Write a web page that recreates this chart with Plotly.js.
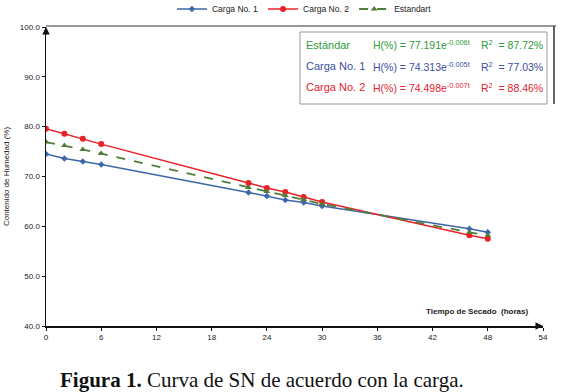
<!DOCTYPE html>
<html>
<head>
<meta charset="utf-8">
<script src="https://cdn.plot.ly/plotly-3.0.1.min.js"></script>
<style>
html,body{margin:0;padding:0;background:#fff;}
#chart{width:566px;height:392px;}
</style>
</head>
<body>
<div id="chart"></div>
<script>
const hours = [0, 2, 4, 6, 22, 24, 26, 28, 30, 46, 48];
const carga1 = [74.5, 73.6, 73.0, 72.4, 66.8, 66.1, 65.3, 64.8, 64.1, 59.5, 58.8];
const carga2 = [79.6, 78.6, 77.6, 76.5, 68.7, 67.7, 66.9, 65.9, 64.9, 58.2, 57.5];
const estandar = [76.9, 76.2, 75.4, 74.6, 67.8, 67.0, 66.2, 65.4, 64.5, 58.8, 58.2];
const xTicks = [0, 6, 12, 18, 24, 30, 36, 42, 48, 54];
const yTicks = [40, 50, 60, 70, 80, 90, 100];
const eqNames = ['Estándar', 'Carga No. 1', 'Carga No. 2'];
const eqText = ['H(%) = 77.191e<sup>-0.006t</sup>', 'H(%) = 74.313e<sup>-0.005t</sup>', 'H(%) = 74.498e<sup>-0.007t</sup>'];
const r2Text = ['R<sup>2</sup>  = 87.72%', 'R<sup>2</sup>  = 77.03%', 'R<sup>2</sup>  = 88.46%'];
const eqColors = ['#2e9a3c', '#3b4f9e', '#e2232f'];

const traces = [
  {x: hours, y: carga1, name: 'Carga No. 1', mode: 'lines+markers',
   line: {color: '#3d67a8', width: 1.5}, marker: {symbol: 'diamond', size: 5, color: '#3d67a8'}},
  {x: hours, y: carga2, name: 'Carga No. 2', mode: 'lines+markers',
   line: {color: '#ec2127', width: 1.5}, marker: {symbol: 'circle', size: 6, color: '#ec2127'}},
  {x: hours, y: estandar, name: 'Estandart', mode: 'lines+markers',
   line: {color: '#4f7d3a', width: 1.8, dash: 'dash'}, marker: {symbol: 'triangle-up', size: 6, color: '#4f7d3a'}}
];

const P = {l: 46, t: 27, w: 497, h: 299};
const px = v => (v - P.l) / P.w;
const py = v => 1 - (v - P.t) / P.h;

const ann = [];
const eqFont = 'Liberation Sans, Arial, sans-serif';
for (let i = 0; i < 3; i++) {
  const yy = 45 + i * 21;
  ann.push({xref: 'paper', yref: 'paper', x: px(304), y: py(yy), xanchor: 'left', yanchor: 'middle',
            text: eqNames[i], showarrow: false, font: {family: eqFont, size: 11, color: eqColors[i]}});
  ann.push({xref: 'paper', yref: 'paper', x: px(371), y: py(yy), xanchor: 'left', yanchor: 'middle',
            text: eqText[i], showarrow: false, font: {family: eqFont, size: 10.5, color: eqColors[i]}});
  ann.push({xref: 'paper', yref: 'paper', x: px(545), y: py(yy), xanchor: 'right', yanchor: 'middle',
            text: r2Text[i], showarrow: false, font: {family: eqFont, size: 10.5, color: eqColors[i]}});
}
ann.push({xref: 'paper', yref: 'paper', x: px(530), y: py(311), xanchor: 'right', yanchor: 'middle',
          text: '<b>Tiempo de Secado  (horas)</b>', showarrow: false,
          font: {family: 'Liberation Sans, Arial, sans-serif', size: 8, color: '#222'}});
ann.push({xref: 'paper', yref: 'paper', x: px(262), y: py(380), xanchor: 'center', yanchor: 'middle',
          text: '<b>Figura 1.</b> Curva de SN de acuerdo con la carga.', showarrow: false,
          font: {family: 'Liberation Serif, Times New Roman, serif', size: 21, color: '#111'}});
// axis arrows
ann.push({x: 54, y: 40, xref: 'x', yref: 'y', ax: -9, ay: 0, text: '', showarrow: true, arrowhead: 2, arrowsize: 1, arrowwidth: 1.5, arrowcolor: '#111'});
ann.push({x: 0, y: 100, xref: 'x', yref: 'y', ax: 0, ay: 9, text: '', showarrow: true, arrowhead: 2, arrowsize: 1, arrowwidth: 1.5, arrowcolor: '#111'});

const layout = {
  width: 566, height: 392,
  margin: {l: 46, r: 23, t: 27, b: 66, autoexpand: false},
  paper_bgcolor: '#fff', plot_bgcolor: '#fff',
  font: {family: 'Liberation Sans, Arial, sans-serif', size: 8, color: '#222'},
  showlegend: true,
  legend: {orientation: 'h', x: 0.52, xanchor: 'center', yref: 'container', y: 1 - 9 / 392, yanchor: 'middle',
           font: {size: 8.5, color: '#222'}, itemwidth: 30, tracegroupgap: 0, bgcolor: 'rgba(0,0,0,0)'},
  xaxis: {range: [0, 54], tickvals: xTicks, ticktext: xTicks.map(String), showgrid: false, zeroline: false,
          showline: true, linecolor: '#111', linewidth: 1.5, ticks: 'outside', ticklen: 3, tickcolor: '#111',
          tickfont: {size: 8, color: '#222'}, fixedrange: true},
  yaxis: {range: [40, 100], tickvals: yTicks, ticktext: yTicks.map(v => v.toFixed(1)), showgrid: false, zeroline: false,
          showline: true, linecolor: '#111', linewidth: 1.5, ticks: 'outside', ticklen: 3, tickcolor: '#111',
          tickfont: {size: 8, color: '#222'},
          title: {text: 'Contenido de Humedad (%)', font: {size: 8, color: '#222'}, standoff: 9}},
  shapes: [
    {type: 'rect', xref: 'paper', yref: 'paper', x0: px(300), x1: px(547),
     y0: py(104), y1: py(32), line: {color: '#999', width: 1}},
    {type: 'line', xref: 'paper', yref: 'paper', x0: 0, x1: px(556), y0: py(26), y1: py(26), line: {color: '#333', width: 1}},
    {type: 'line', xref: 'paper', yref: 'paper', x0: px(554), x1: px(554), y0: py(26), y1: py(104), line: {color: '#333', width: 1.5}}
  ],
  annotations: ann
};
Plotly.newPlot('chart', traces, layout, {displayModeBar: false, staticPlot: true});
</script>
</body>
</html>
